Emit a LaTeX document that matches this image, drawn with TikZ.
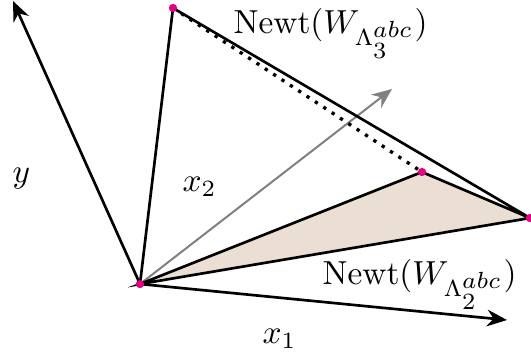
\documentclass[tikz,border=0pt]{standalone}
\usetikzlibrary{arrows.meta}
\DeclareMathSizes{10}{10}{7.5}{7.5}
\definecolor{fillbeige}{RGB}{234,223,210}
\definecolor{dotmag}{RGB}{230,0,130}
\begin{document}
\begin{tikzpicture}[x=0.3pt,y=-0.3pt,
  edge/.style={line width=0.8pt},
  axis/.style={line width=0.8pt,-{Stealth[length=6pt,width=5pt]}},
  gaxis/.style={line width=0.6pt,gray,-{Stealth[length=6pt,width=5pt]}},
  vdot/.style={circle,fill=dotmag,inner sep=0pt,minimum size=2.5pt},
  lbl/.style={inner sep=0pt}]
\useasboundingbox (0,0) rectangle (531,352);
\coordinate (O) at (140,284);
\coordinate (T) at (173,8);
\coordinate (M) at (422,172);
\coordinate (R) at (530,218);
\coordinate (Y) at (13,1);
\coordinate (X1) at (507,320);
\coordinate (X2) at (392,89);
\fill[fillbeige] (O) -- (M) -- (R) -- cycle;
\draw[gaxis] (O) -- (X2);
\draw[edge] (O) -- (T) -- (R) -- (M) -- (O) -- (R);
\draw[line width=1pt,dotted] (T) -- (M);
\draw[axis] (O) -- (Y);
\draw[axis] (O) -- (X1);
\node[vdot] (nO) at (O) {};
\node[vdot] (nT) at (T) {};
\node[vdot] (nM) at (M) {};
\node[vdot] (nR) at (R) {};
\node[lbl,anchor=base west] (l3) at (233,33) {$\mathrm{Newt}(W_{\Lambda_3^{abc}})$};
\node[lbl,anchor=base west] (l2) at (322,284) {$\mathrm{Newt}(W_{\Lambda_2^{abc}})$};
\node[lbl,anchor=base west] (ly) at (12,182) {$y$};
\node[lbl,anchor=base west] (lx2) at (182,191) {$x_2$};
\node[lbl,anchor=base west] (lx1) at (262,343) {$x_1$};
\end{tikzpicture}
\end{document}
